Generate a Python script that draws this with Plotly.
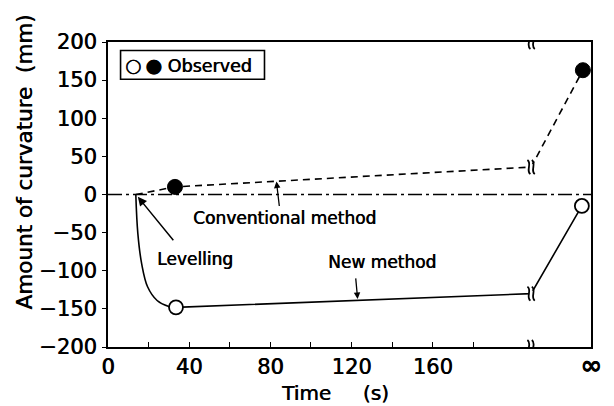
import plotly.graph_objects as go

# ---------------- data ----------------
x_tick_vals = [0, 20, 40, 60, 80, 100, 120, 140, 160, 180, 238]
x_tick_text = ["0", "", "40", "", "80", "", "120", "", "160", "",
               "<b><span style='font-size:26px'>∞</span></b>"]
y_tick_vals = [-200, -150, -100, -50, 0, 50, 100, 150, 200]

break_t = 208.5        # position of the axis break
inf_t = 238            # position of "infinity" (right frame)

conv_t = [13.7, 33, 208.5, 234]
conv_y = [0, 10, 36, 163]

new_curve_t = [13.7, 14.7, 16.6, 19.5, 24.2, 30, 33.5]
new_curve_y = [0, -51, -91, -121, -139, -147, -148]
new_t = [33.5, 208.5, 233.5]
new_y = [-148, -130, -15]

obs_filled_t = [33, 234]
obs_filled_y = [10, 163]
obs_open_t = [33.5, 233.5]
obs_open_y = [-148, -15]

FONT = "DejaVu Sans"
BLACK = "black"
SHADOW = "0.6px 0px 0px black"   # slight faux-bold like the scanned print


def f(size):
    return dict(family=FONT, size=size, color=BLACK, shadow=SHADOW)


fig = go.Figure()

# conventional method (dashed)
fig.add_trace(go.Scatter(x=conv_t, y=conv_y, mode="lines",
                         line=dict(color=BLACK, width=1.6, dash="7px,5px"),
                         showlegend=False, hoverinfo="skip"))
# new method (solid, curved drop then straight)
fig.add_trace(go.Scatter(x=new_curve_t, y=new_curve_y, mode="lines",
                         line=dict(color=BLACK, width=1.6, shape="spline", smoothing=1.0),
                         showlegend=False, hoverinfo="skip"))
fig.add_trace(go.Scatter(x=new_t, y=new_y, mode="lines",
                         line=dict(color=BLACK, width=1.6),
                         showlegend=False, hoverinfo="skip"))
# observed points
fig.add_trace(go.Scatter(x=obs_filled_t, y=obs_filled_y, mode="markers",
                         marker=dict(size=15, color=BLACK, line=dict(color=BLACK, width=1)),
                         showlegend=False, hoverinfo="skip"))
fig.add_trace(go.Scatter(x=obs_open_t, y=obs_open_y, mode="markers",
                         marker=dict(size=14, color="white", line=dict(color=BLACK, width=1.8)),
                         showlegend=False, hoverinfo="skip"))

shapes = []
# zero reference line (dash-dot)
shapes.append(dict(type="line", xref="x", yref="y", x0=0, x1=inf_t, y0=0, y1=0,
                   line=dict(color=BLACK, width=1.6, dash="14px,4px,3px,4px"), layer="below"))

# break marks
break_ys = [200, -200, conv_y[2], new_y[1]]
for by in break_ys:
    shapes.append(dict(type="rect", xref="x", yref="y", xsizemode="pixel", ysizemode="pixel",
                       xanchor=break_t, yanchor=by, x0=-2, x1=2, y0=-3, y1=3,
                       fillcolor="white", line=dict(width=0), layer="above"))
    for dx in (-2.2, 2.2):
        shapes.append(dict(type="path", xref="x", yref="y", xsizemode="pixel", ysizemode="pixel",
                           xanchor=break_t, yanchor=by,
                           path=f"M{dx-1.5},7 C{dx+3.5},3.5 {dx-3.5},-3.5 {dx+1.5},-7",
                           line=dict(color=BLACK, width=1.8), layer="above"))

# legend box
shapes.append(dict(type="rect", xref="paper", yref="paper", x0=0.026, x1=0.324, y0=0.878, y1=0.972,
                   line=dict(color=BLACK, width=1.6), fillcolor="white", layer="above"))

annotations = [
    dict(xref="paper", yref="paper", x=0.031, y=0.925, xanchor="left", yanchor="middle",
         text="<span style='font-size:19px'>○\u2009●</span> Observed",
         showarrow=False, font=f(17.5)),
    dict(x=87, y=-31, text="Conventional method", showarrow=False, font=f(17)),
    dict(x=43, y=-84, text="Levelling", showarrow=False, font=f(17)),
    dict(x=135, y=-89, text="New method", showarrow=False, font=f(17)),
    # axis titles
    dict(xref="paper", yref="paper", x=0.469, y=-0.15, xanchor="center", yanchor="middle",
         text="Time\u00a0\u00a0\u00a0\u00a0\u00a0(s)", showarrow=False, font=f(20)),
    dict(xref="paper", yref="paper", x=-0.172, y=0.6075, xanchor="center", yanchor="middle",
         text="Amount of curvature\u00a0\u00a0(mm)", textangle=-90, showarrow=False, font=f(21.5)),
    # arrows
    dict(x=14.7, y=-3, ax=32.8, ay=-62, axref="x", ayref="y", xref="x", yref="y", text="",
         showarrow=True, arrowhead=2, arrowsize=1.2, arrowwidth=1.5, arrowcolor=BLACK),
    dict(x=83, y=17, ax=84.5, ay=-17, axref="x", ayref="y", xref="x", yref="y", text="",
         showarrow=True, arrowhead=2, arrowsize=1, arrowwidth=1.3, arrowcolor=BLACK),
    dict(x=123, y=-137, ax=122, ay=-108, axref="x", ayref="y", xref="x", yref="y", text="",
         showarrow=True, arrowhead=2, arrowsize=1, arrowwidth=1.3, arrowcolor=BLACK),
]

fig.update_layout(
    width=614, height=406,
    margin=dict(l=108, r=16, t=42, b=59),
    paper_bgcolor="white", plot_bgcolor="white",
    font=dict(family=FONT, color=BLACK),
    shapes=shapes, annotations=annotations,
    showlegend=False,
)
fig.update_xaxes(range=[0, inf_t], tickmode="array", tickvals=x_tick_vals, ticktext=x_tick_text,
                 ticks="inside", ticklen=5, tickwidth=1.2, tickcolor=BLACK,
                 showline=True, linecolor=BLACK, linewidth=2, mirror=True,
                 showgrid=False, zeroline=False,
                 tickfont=f(21))
fig.update_yaxes(range=[-200, 200], tickmode="array", tickvals=y_tick_vals,
                 ticks="outside", ticklen=4, tickwidth=1.2, tickcolor=BLACK,
                 showline=True, linecolor=BLACK, linewidth=2, mirror=True,
                 showgrid=False, zeroline=False, ticklabelstandoff=1,
                 tickfont=f(21))

fig.write_html("out.html")
